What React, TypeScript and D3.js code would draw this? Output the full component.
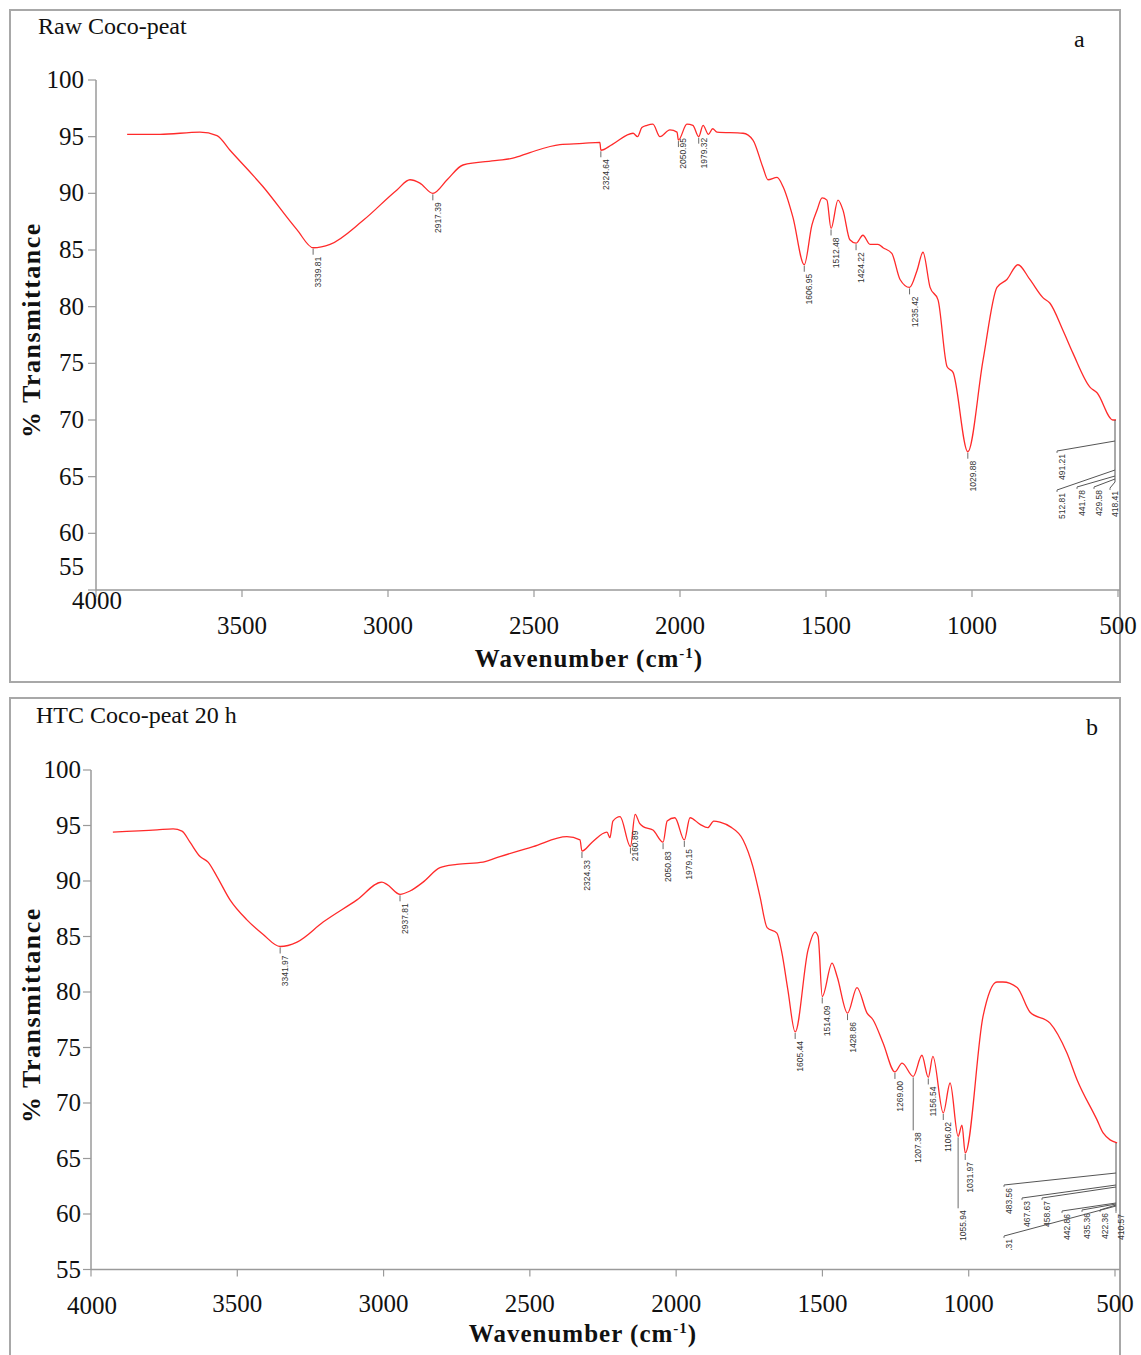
import React from 'react';
import * as d3 from 'd3';

// axis ticks shared by both panels
const xTicks = [4000, 3500, 3000, 2500, 2000, 1500, 1000, 500];
const yTicks = [100, 95, 90, 85, 80, 75, 70, 65, 60, 55];

// Raw coco-peat (wavenumber cm-1 / %T)
const rawWavenumber = [
  3996, 3880, 3739, 3679, 3633, 3517, 3397, 3339.81, 3280, 3164,
  3044, 2998, 2963, 2917.39, 2867, 2811, 2691, 2635, 2575, 2469,
  2388, 2328, 2324.64, 2285, 2211, 2195, 2180, 2162, 2141, 2116, 2081, 2056,
  2050.95, 2021, 2000, 1979.32, 1964, 1945, 1930, 1915, 1823, 1788, 1753, 1735,
  1703, 1682, 1647, 1606.95, 1580, 1562, 1544, 1527, 1512.48, 1488,
  1470, 1446, 1424.22, 1400, 1375, 1347, 1329, 1298, 1269, 1235.42,
  1209, 1188, 1163, 1135, 1103, 1082, 1029.88, 976, 927, 892,
  853, 811, 765, 740, 694, 659, 599, 574, 518, 507,
];
const rawTransmittance = [
  95.2, 95.2, 95.4, 95.1, 93.8, 90.6, 86.8, 85.2, 85.5, 87.6,
  90.3, 91.2, 90.9, 90.0, 91.2, 92.5, 92.9, 93.1, 93.6, 94.3,
  94.4, 94.5, 93.8, 94.3, 95.3, 95.0, 95.8, 96.0, 96.1, 95.0, 95.6, 95.4,
  94.7, 96.1, 96.0, 95.0, 96.0, 95.2, 95.7, 95.4, 95.3, 94.7, 92.3, 91.2,
  91.4, 90.6, 87.9, 83.7, 87.2, 88.5, 89.6, 89.4, 86.9, 89.4,
  88.5, 85.9, 85.6, 86.3, 85.5, 85.5, 85.2, 84.7, 82.4, 81.7,
  83.2, 84.8, 81.7, 80.6, 74.7, 74.2, 67.2, 75.3, 81.7, 82.4,
  83.7, 82.4, 80.8, 80.3, 77.9, 75.9, 72.9, 72.4, 70.0, 70.0,
];
const rawPeaks = [
  '3339.81', '2917.39', '2324.64', '2050.95', '1979.32',
  '1606.95', '1512.48', '1424.22', '1235.42', '1029.88',
];
const rawCluster = ['491.21', '512.81', '441.78', '429.58', '418.41'];

// HTC coco-peat 20 h
const htcWavenumber = [
  3906, 3757, 3703, 3673, 3646, 3612, 3585, 3555, 3511, 3454,
  3400, 3341.97, 3285, 3197, 3083, 2999, 2982, 2937.81, 2904, 2860,
  2803, 2746, 2658, 2601, 2489, 2375, 2331, 2324.33, 2290, 2240, 2230,
  2220, 2196, 2160.89, 2145, 2130, 2118, 2085, 2050.83, 2037, 2011, 1979.15,
  1960, 1926, 1900, 1880, 1859, 1825, 1781, 1748, 1724, 1700, 1667, 1650,
  1630, 1605.44, 1562, 1538, 1528, 1514.09, 1481, 1464, 1428.86, 1397,
  1363, 1343, 1309, 1269.0, 1245, 1207.38, 1178, 1156.54, 1141, 1106.02,
  1083, 1055.94, 1043, 1031.97, 972, 925, 905, 857, 814, 746,
  689, 655, 588, 567, 520,
];
const htcTransmittance = [
  94.4, 94.6, 94.7, 94.5, 93.5, 92.2, 91.7, 90.4, 88.3, 86.5,
  85.2, 84.1, 84.5, 86.3, 88.3, 89.9, 89.7, 88.8, 89.1, 89.9,
  91.2, 91.5, 91.7, 92.2, 93.1, 94.0, 93.7, 92.7, 93.5, 94.4, 93.9,
  95.4, 95.8, 93.1, 96.0, 95.2, 94.9, 94.6, 93.5, 95.4, 95.7, 93.7,
  95.7, 95.1, 94.8, 95.4, 95.3, 94.9, 93.7, 91.3, 88.6, 85.8, 85.3, 83.5,
  80.2, 76.4, 83.8, 85.4, 85.0, 79.6, 82.6, 81.4, 78.1, 80.4,
  78.1, 77.5, 75.4, 72.8, 73.6, 72.4, 74.3, 72.3, 74.2, 69.1,
  71.8, 67.0, 68.0, 65.5, 77.8, 80.9, 80.9, 80.4, 78.2, 77.2,
  74.5, 72.1, 68.5, 67.3, 66.4,
];
const htcPeaks = [
  '3341.97', '2937.81', '2324.33', '2160.89', '2050.83', '1979.15',
  '1605.44', '1514.09', '1428.86', '1269.00', '1207.38', '1156.54',
  '1106.02', '1055.94', '1031.97',
];
const htcCluster = [
  '483.56', '467.63', '458.67', '442.86', '435.36', '422.36', '410.57', '415.31',
];

const serif = '"Liberation Serif", "Times New Roman", serif';
const sans = '"Liberation Sans", Arial, sans-serif';
const axisColor = '#9a9a9a';
const lineColor = '#ff2a2a';

const panels = [
  {
    id: 'a',
    title: 'Raw Coco-peat',
    letter: 'a',
    frame: { x: 10, y: 10, w: 1110, h: 672 },
    titleAt: [38, 34],
    letterAt: [1074, 47],
    axisRange: [96, 1118],
    specRange: [126, 1118],
    yRange: [590, 80],
    xLabelY: 634,
    firstXLabelY: 609,
    lowYLabelShift: -23,
    yLabelRight: 84,
    yTitleAt: [40, 330],
    xTitleAt: [589, 667],
    wn: rawWavenumber,
    tr: rawTransmittance,
    peaks: rawPeaks,
    drop: {} as Record<string, number>,
    lift: { '2050.95': -4, '1979.32': -1 } as Record<string, number>,
    cluster: rawCluster,
    // leader layout for peaks beyond the plotted range: [anchorY, labelX, labelY]
    clusterLayout: [
      [441, 1057, 451],
      [470, 1057, 490],
      [476, 1077, 487],
      [479, 1094, 487],
      [482, 1110, 488],
    ],
    clusterTop: 420,
    clusterBottom: 482,
    clusterX: 1115,
    clip: null as null | number,
  },
  {
    id: 'b',
    title: 'HTC Coco-peat 20 h',
    letter: 'b',
    frame: { x: 10, y: 698, w: 1110, h: 690 },
    titleAt: [36, 723],
    letterAt: [1086, 735],
    axisRange: [91, 1115],
    specRange: [85, 1123],
    yRange: [1269.5, 770],
    xLabelY: 1312,
    firstXLabelY: 1314,
    lowYLabelShift: 0,
    yLabelRight: 81,
    yTitleAt: [40, 1015],
    xTitleAt: [583, 1342],
    wn: htcWavenumber,
    tr: htcTransmittance,
    peaks: htcPeaks,
    drop: { '1207.38': 53, '1055.94': 71 } as Record<string, number>,
    lift: { '2160.89': -18 } as Record<string, number>,
    cluster: htcCluster,
    clusterLayout: [
      [1173, 1004, 1185],
      [1185, 1022, 1198],
      [1187, 1042, 1198],
      [1203, 1062, 1211],
      [1204, 1082, 1210],
      [1205, 1100, 1210],
      [1206, 1116, 1211],
      [1206, 1004, 1236],
    ],
    clusterTop: 1143,
    clusterBottom: 1206,
    clusterX: 1116,
    clip: 1251 as null | number,
  },
];

type PanelCfg = (typeof panels)[number];

// vertical label, reading bottom-to-top, hanging below the point (x, top)
function VLabel({ x, top, text }: { x: number; top: number; text: string }) {
  return (
    <text
      transform={`translate(${x + 8},${top}) rotate(-90)`}
      textAnchor="end"
      fontFamily={sans}
      fontSize={8.5}
      fill="#333"
    >
      {text}
    </text>
  );
}

function PeakLabel({ x, y, text, drop, lift }: { x: number; y: number; text: string; drop: number; lift: number }) {
  const top = y + 1;
  const bottom = y + 1 + drop;
  const textY = (lift ? y + lift : bottom) + 2;
  return (
    <g>
      <line x1={x} x2={x} y1={top} y2={bottom} stroke="#444" strokeWidth={0.8} />
      <VLabel x={x} top={textY} text={text} />
    </g>
  );
}

function Panel({ cfg }: { cfg: PanelCfg }) {
  const axisX = d3.scaleLinear().domain([4000, 500]).range(cfg.axisRange);
  const specX = d3.scaleLinear().domain([4000, 500]).range(cfg.specRange);
  const y = d3.scaleLinear().domain([55, 100]).range(cfg.yRange);

  const points = d3.zip(cfg.wn, cfg.tr) as [number, number][];
  const line = d3
    .line<[number, number]>()
    .x(d => specX(d[0]))
    .y(d => y(d[1]))
    .curve(d3.curveMonotoneX);

  const x0 = cfg.axisRange[0];
  const yBase = cfg.yRange[0];
  const frameRight = cfg.frame.x + cfg.frame.w;

  return (
    <g>
      <rect
        x={cfg.frame.x}
        y={cfg.frame.y}
        width={cfg.frame.w}
        height={cfg.frame.h}
        fill="none"
        stroke="#a8a8a8"
        strokeWidth={2}
      />
      <text x={cfg.titleAt[0]} y={cfg.titleAt[1]} fontFamily={serif} fontSize={24} fill="#111">
        {cfg.title}
      </text>
      <text x={cfg.letterAt[0]} y={cfg.letterAt[1]} fontFamily={serif} fontSize={24} fill="#111">
        {cfg.letter}
      </text>

      {/* y axis */}
      <line x1={x0} x2={x0} y1={y(100)} y2={yBase} stroke={axisColor} strokeWidth={1.5} />
      {yTicks.map(t => (
        <g key={t}>
          <line x1={x0 - 8} x2={x0} y1={y(t)} y2={y(t)} stroke={axisColor} strokeWidth={1.2} />
          <text
            x={cfg.yLabelRight}
            y={y(t) + 8 + (t === 55 ? cfg.lowYLabelShift : 0)}
            textAnchor="end"
            fontFamily={serif}
            fontSize={25}
            fill="#111"
          >
            {t}
          </text>
        </g>
      ))}

      {/* x axis */}
      <line x1={x0} x2={frameRight} y1={yBase} y2={yBase} stroke={axisColor} strokeWidth={1.5} />
      {xTicks.map((t, i) => (
        <g key={t}>
          <line x1={axisX(t)} x2={axisX(t)} y1={yBase} y2={yBase + 7} stroke={axisColor} strokeWidth={1.2} />
          <text
            x={axisX(t) + (i === 0 ? 1 : 0)}
            y={i === 0 ? cfg.firstXLabelY : cfg.xLabelY}
            textAnchor="middle"
            fontFamily={serif}
            fontSize={25}
            fill="#111"
          >
            {t}
          </text>
        </g>
      ))}

      <text
        transform={`translate(${cfg.yTitleAt[0]},${cfg.yTitleAt[1]}) rotate(-90)`}
        textAnchor="middle"
        fontFamily={serif}
        fontWeight="bold"
        fontSize={26}
        letterSpacing={1.5}
        fill="#111"
      >
        % Transmittance
      </text>
      <text
        x={cfg.xTitleAt[0]}
        y={cfg.xTitleAt[1]}
        textAnchor="middle"
        fontFamily={serif}
        fontWeight="bold"
        fontSize={25}
        letterSpacing={1}
        fill="#111"
      >
        Wavenumber (cm
        <tspan dy={-9} fontSize={15}>-1</tspan>
        <tspan dy={9}>)</tspan>
      </text>

      {/* spectrum */}
      <path d={line(points) ?? ''} fill="none" stroke={lineColor} strokeWidth={1.3} strokeLinejoin="round" />

      {/* peak annotations */}
      {cfg.peaks.map(p => {
        const idx = d3.minIndex(cfg.wn, w => Math.abs(w - parseFloat(p)));
        return (
          <PeakLabel
            key={p}
            x={specX(cfg.wn[idx])}
            y={y(cfg.tr[idx])}
            text={p}
            drop={cfg.drop[p] ?? 6}
            lift={cfg.lift[p] ?? 0}
          />
        );
      })}

      {/* peaks past the plotted range, drawn on leaders */}
      {cfg.clip !== null && (
        <defs>
          <clipPath id={`clip-${cfg.id}`}>
            <rect x={0} y={0} width={1141} height={cfg.clip} />
          </clipPath>
        </defs>
      )}
      <g clipPath={cfg.clip !== null ? `url(#clip-${cfg.id})` : undefined}>
        <line
          x1={cfg.clusterX}
          x2={cfg.clusterX}
          y1={cfg.clusterTop}
          y2={cfg.clusterBottom}
          stroke="#555"
          strokeWidth={1}
        />
        {cfg.cluster.map((label, i) => {
          const [ay, lx, ly] = cfg.clusterLayout[i];
          return (
            <g key={label}>
              <line x1={cfg.clusterX} y1={ay} x2={lx} y2={ly} stroke="#555" strokeWidth={1} />
              <line x1={lx} x2={lx} y1={ly} y2={ly + 2} stroke="#555" strokeWidth={0.8} />
              <VLabel x={lx} top={ly + 3} text={label} />
            </g>
          );
        })}
      </g>
    </g>
  );
}

export default function App() {
  return (
    <svg
      width={1141}
      height={1355}
      viewBox="0 0 1141 1355"
      style={{ position: 'absolute', left: 0, top: 0, background: '#fff', display: 'block' }}
    >
      {panels.map(p => (
        <Panel key={p.id} cfg={p} />
      ))}
    </svg>
  );
}
